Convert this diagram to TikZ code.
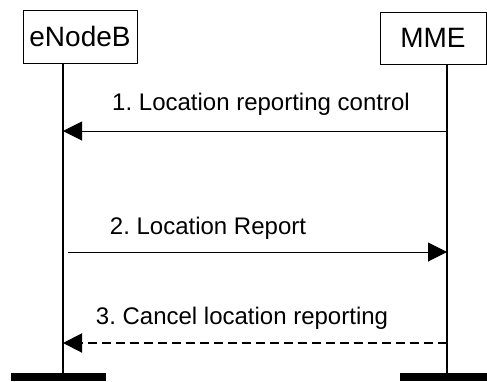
\documentclass[tikz,border=0pt]{standalone}
\usepackage{fontspec}
\setmainfont{Liberation Sans}
\usetikzlibrary{arrows.meta}
\frenchspacing
\begin{document}
\begin{tikzpicture}[x=1pt,y=-1pt,
  entity/.style={draw, line width=0.8pt, inner sep=0pt, font=\fontsize{28}{32}\selectfont},
  lifeline/.style={line width=1.5pt},
  msg/.style={line width=1pt, -{Triangle[length=19pt,width=19pt]}},
  dmsg/.style={line width=2pt, dash pattern=on 9pt off 5pt, -{Triangle[length=19pt,width=19pt]}},
  lbl/.style={font=\fontsize{24}{28}\selectfont, inner sep=0pt},
  endbar/.style={fill=black, draw=none}]
\useasboundingbox (0,0) rectangle (487,381);
\node[entity, minimum width=114pt, minimum height=53pt] (enb) at (80,36.5) {eNodeB};
\node[entity, minimum width=106pt, minimum height=52pt] (mme) at (433,38) {MME};
\coordinate (ebot) at (63,373);
\coordinate (mbot) at (447,373);
\draw[lifeline] (enb.south -| ebot) -- (ebot);
\draw[lifeline] (mme.south -| mbot) -- (mbot);
\fill[endbar] (11,373) rectangle (106,381);
\fill[endbar] (400,373) rectangle (487,381);
\coordinate (m1) at (447,131);
\coordinate (e1) at (63,131);
\coordinate (e2) at (68,252);
\coordinate (m2) at (447,252);
\coordinate (m3) at (447,343);
\coordinate (e3) at (63,343);
\draw[msg] (m1) -- (e1);
\draw[msg] (e2) -- (m2);
\draw[dmsg] (m3) -- (e3);
\node[lbl] (l1) at (261,104) {1. Location reporting control};
\node[lbl] (l2) at (208,228) {2. Location Report};
\node[lbl] (l3) at (242,318) {3. Cancel location reporting};
\end{tikzpicture}
\end{document}
